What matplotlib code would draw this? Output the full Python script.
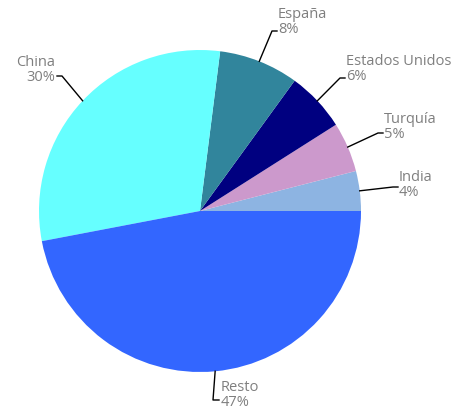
import numpy as np
import matplotlib.pyplot as plt

labels = ["India", "Turquía", "Estados Unidos", "España", "China", "Resto"]
shares = [4, 5, 6, 8, 30, 47]
colors = ["#8DB4E2", "#CC99CC", "#000080", "#31859C", "#66FFFF", "#3366FF"]

H = 412
# label placement (pixels from top-left): text anchor, elbow, stub end
label_pos = {
    "India": (399, 170, "left", (393, 187), (398, 187)),
    "Turquía": (384, 112, "left", (378, 133), (383, 133)),
    "Estados Unidos": (346, 54, "left", (340, 78), (345, 78)),
    "España": (278, 7, "left", (272, 31), (277, 31)),
    "China": (55, 55, "right", (62, 76), (57, 76)),
    "Resto": (221, 380, "left", (213, 400), (219, 400)),
}

fig = plt.figure(figsize=(4.6, 4.12), dpi=100)
ax = fig.add_axes([0, 0, 1, 1])

cx, cy, r = 200, H - 211, 161
wedges, _ = ax.pie(shares, colors=colors, startangle=0, counterclock=True,
                   center=(cx, cy), radius=r, frame=True,
                   wedgeprops=dict(linewidth=0))
ax.set_xlim(0, 460)
ax.set_ylim(0, H)
ax.set_aspect("equal")
ax.axis("off")

for w, lab, s in zip(wedges, labels, shares):
    mid = np.deg2rad((w.theta1 + w.theta2) / 2)
    ex, ey = cx + r * np.cos(mid), cy + r * np.sin(mid)
    tx, ty, ha, elbow, stub = label_pos[lab]
    ax.plot([ex, elbow[0], stub[0]], [ey, H - elbow[1], H - stub[1]],
            color="black", lw=1)
    ax.text(tx, H - ty, f"{lab}\n{s}%", ha=ha, va="top", color="#7F7F7F",
            fontsize=10.5, family="Open Sans", linespacing=1.0)

fig.savefig("out.png", dpi=100)
